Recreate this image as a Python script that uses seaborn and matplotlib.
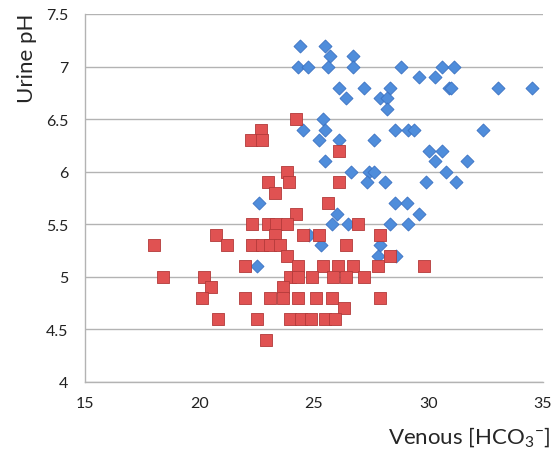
import numpy as np
import pandas as pd
import matplotlib
matplotlib.use('Agg')
import matplotlib.pyplot as plt
import seaborn as sns

# blue diamonds
blue_x = [24.4, 25.5, 25.7, 26.7, 24.3, 24.75, 25.6, 26.7, 28.8, 30.6, 31.1, 29.6, 30.3,
          26.1, 27.2, 28.3, 30.9, 31.0, 33.05, 34.5, 26.4, 27.9, 28.2, 28.2, 25.4,
          24.5, 25.5, 28.55, 29.1, 29.35, 32.4, 25.2, 26.1, 27.6, 30.0, 30.6,
          25.5, 30.3, 31.7, 26.6, 27.4, 27.6, 30.75, 27.3, 28.1, 29.9, 31.2,
          22.6, 28.55, 29.05, 26.0, 29.6, 25.8, 26.5, 28.3, 29.1, 24.8, 25.3, 27.9,
          27.8, 28.6, 22.5]
blue_y = [7.2, 7.2, 7.1, 7.1, 7.0, 7.0, 7.0, 7.0, 7.0, 7.0, 7.0, 6.9, 6.9,
          6.8, 6.8, 6.8, 6.8, 6.8, 6.8, 6.8, 6.7, 6.7, 6.7, 6.6, 6.5,
          6.4, 6.4, 6.4, 6.4, 6.4, 6.4, 6.3, 6.3, 6.3, 6.2, 6.2,
          6.1, 6.1, 6.1, 6.0, 6.0, 6.0, 6.0, 5.9, 5.9, 5.9, 5.9,
          5.7, 5.7, 5.7, 5.6, 5.6, 5.5, 5.5, 5.5, 5.5, 5.4, 5.3, 5.3,
          5.2, 5.2, 5.1]

# red squares
red_x = [24.2, 22.7, 22.25, 22.75, 26.1, 23.8, 23.0, 23.9, 26.1, 23.3, 25.6, 24.2,
         22.3, 23.0, 23.35, 23.8, 26.9, 20.7, 23.3, 24.5, 25.2, 27.9,
         18.0, 21.2, 22.3, 22.75, 23.1, 23.5, 26.4, 23.8, 28.3,
         22.0, 24.3, 25.4, 26.05, 26.7, 27.8, 29.8,
         18.4, 20.2, 23.95, 24.3, 24.9, 25.85, 26.4, 27.2, 20.5, 23.65,
         20.1, 22.0, 23.1, 23.65, 24.3, 25.1, 25.8, 27.9, 26.3,
         20.8, 22.5, 23.95, 24.45, 24.85, 25.5, 25.9, 22.9]
red_y = [6.5, 6.4, 6.3, 6.3, 6.2, 6.0, 5.9, 5.9, 5.9, 5.8, 5.7, 5.6,
         5.5, 5.5, 5.5, 5.5, 5.5, 5.4, 5.4, 5.4, 5.4, 5.4,
         5.3, 5.3, 5.3, 5.3, 5.3, 5.3, 5.3, 5.2, 5.2,
         5.1, 5.1, 5.1, 5.1, 5.1, 5.1, 5.1,
         5.0, 5.0, 5.0, 5.0, 5.0, 5.0, 5.0, 5.0, 4.9, 4.9,
         4.8, 4.8, 4.8, 4.8, 4.8, 4.8, 4.8, 4.8, 4.7,
         4.6, 4.6, 4.6, 4.6, 4.6, 4.6, 4.6, 4.4]

x_ticks = [15, 20, 25, 30, 35]
y_ticks = [4, 4.5, 5, 5.5, 6, 6.5, 7, 7.5]

df_blue = pd.DataFrame({'hco3': blue_x, 'ph': blue_y})
df_red = pd.DataFrame({'hco3': red_x, 'ph': red_y})

sns.set_style('white')
plt.rcParams['font.family'] = ['Lato', 'DejaVu Sans']
plt.rcParams['mathtext.default'] = 'regular'

fig = plt.figure(figsize=(5.53, 4.60), dpi=100)
ax = fig.add_axes([85 / 553, 1 - 383 / 460, 458 / 553, 368 / 460])

sns.scatterplot(x='hco3', y='ph', data=df_blue, marker='D', s=44,
                color='#4f8ddb', edgecolor='#3b72c2', linewidth=0.6, ax=ax, zorder=3)
sns.scatterplot(x='hco3', y='ph', data=df_red, marker='s', s=86,
                color='#e05252', edgecolor='#b33a3a', linewidth=0.6, ax=ax, zorder=4)

ax.set_xlim(15, 35)
ax.set_ylim(4, 7.5)
ax.set_xticks(x_ticks)
ax.set_xticklabels([str(t) for t in x_ticks])
ax.set_yticks(y_ticks)
ax.set_yticklabels([f'{t:g}' for t in y_ticks])

ax.yaxis.grid(True, color='#b3b3b3', linewidth=1.0)
ax.xaxis.grid(False)
ax.set_axisbelow(True)
for side in ['top', 'right']:
    ax.spines[side].set_visible(False)
for side in ['left', 'bottom']:
    ax.spines[side].set_color('#b3b3b3')
    ax.spines[side].set_linewidth(1.0)

ax.tick_params(axis='both', which='major', direction='out', length=4, width=1,
               color='#b3b3b3', labelsize=11.5, labelcolor='#222222')
ax.tick_params(axis='y', pad=8)
ax.tick_params(axis='x', pad=6)

ax.set_xlabel(r'Venous [HCO$_3$$^{-}$]', fontsize=16, loc='right')
ax.xaxis.set_label_coords(1.015, -0.115)
ax.set_ylabel('Urine pH', fontsize=16, loc='top')
ax.yaxis.set_label_coords(-0.105, 1.005)

fig.savefig('out.png', dpi=100)
